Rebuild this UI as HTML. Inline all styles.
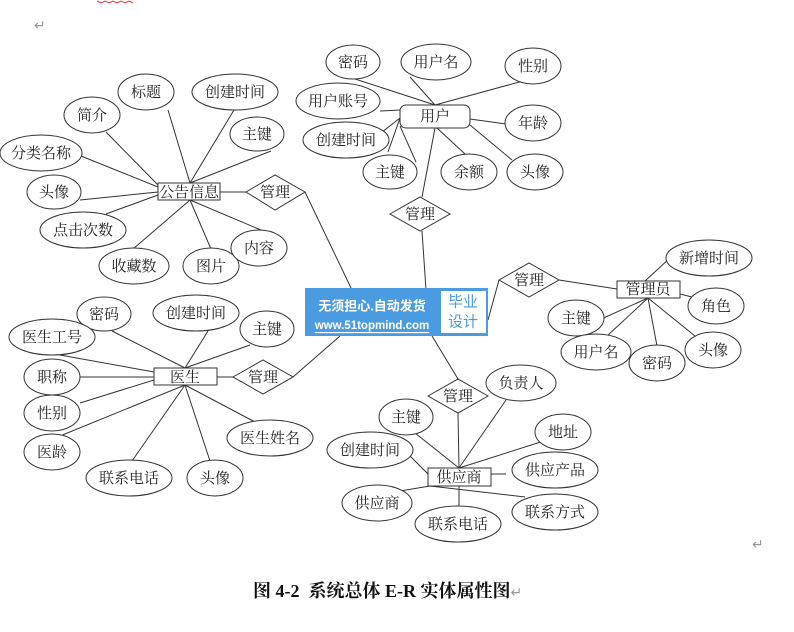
<!DOCTYPE html>
<html><head><meta charset="utf-8"><style>
html,body{margin:0;padding:0;background:#fff;}
svg text{font-family:"Liberation Serif","Noto Serif CJK SC",serif;font-size:15px;fill:#222;}
</style></head><body>
<svg width="794" height="627" viewBox="0 0 794 627" xmlns="http://www.w3.org/2000/svg">
<g stroke="#333" stroke-width="1" fill="none">
<path d="M168 110L190 183M234 110L190 183M271 151L190 183M106 132L158 185M81 156L158 187M80 200L158 192M106 214L158 195M133 249L190 200M211 249L190 200M268 233L190 200M220 192L246 192M305 192L352 290"/>
<path d="M355 79L435 105M410 77L435 105M523 81L435 105M380 111L400 110M470 119L506 124M400 118L388 152M400 126L416 162M437 128L465 154M470 125L512 160M435 128L422 197M422 231L426 290M372 140L400 118"/>
<path d="M499 280L488 320M559 280L617 289M645 281L670 258M680 294L700 299M648 298L599 320M648 298L607 336M648 298L657 346M648 298L695 336"/>
<path d="M112 331L185 368M208 331L185 368M250 345L185 368M60 355L154 372M80 377L154 377M80 403L154 380M60 436L185 385M132 461L185 385M210 461L185 385M255 422L185 385M217 377L233 377M293 377L340 336"/>
<path d="M458 379L432 336M458 413L459 468M506 400L459 468M415 433L459 468M410 456L428 474M547 440L459 468M506 474L491 474M430 486L525 497M459 486L459 507M430 486L400 491"/>
</g>
<g stroke="#333" stroke-width="1" fill="#fff">
<rect x="158" y="183" width="62" height="17"/>
<rect x="400" y="105" width="70" height="23" rx="6"/>
<rect x="617" y="281" width="63" height="17"/>
<rect x="154" y="368" width="63" height="17"/>
<rect x="428" y="468" width="63" height="18"/>
<polygon points="246,192 275,175 305,192 275,210"/>
<polygon points="390,214 420,197 450,214 420,231"/>
<polygon points="499,280 529,263 559,280 529,297"/>
<polygon points="233,377 263,360 293,377 263,394"/>
<polygon points="428,396 458,379 488,396 458,413"/>
<ellipse cx="146" cy="92" rx="28" ry="18"/>
<ellipse cx="235" cy="92" rx="43" ry="18"/>
<ellipse cx="257" cy="134" rx="27" ry="17"/>
<ellipse cx="92" cy="115" rx="28" ry="18"/>
<ellipse cx="41" cy="153" rx="41" ry="18"/>
<ellipse cx="54" cy="192" rx="27" ry="17"/>
<ellipse cx="83" cy="230" rx="43" ry="18"/>
<ellipse cx="134" cy="266" rx="35" ry="18"/>
<ellipse cx="211" cy="266" rx="28" ry="18"/>
<ellipse cx="259" cy="248" rx="28" ry="18"/>
<ellipse cx="353" cy="62" rx="27" ry="17"/>
<ellipse cx="436" cy="62" rx="35" ry="18"/>
<ellipse cx="533" cy="66" rx="28" ry="18"/>
<ellipse cx="338" cy="101" rx="42" ry="18"/>
<ellipse cx="533" cy="123" rx="28" ry="18"/>
<ellipse cx="346" cy="140" rx="43" ry="18"/>
<ellipse cx="390" cy="172" rx="27" ry="17"/>
<ellipse cx="469" cy="172" rx="28" ry="18"/>
<ellipse cx="535" cy="172" rx="28" ry="18"/>
<ellipse cx="709" cy="258" rx="43" ry="18"/>
<ellipse cx="716" cy="306" rx="28" ry="18"/>
<ellipse cx="576" cy="318" rx="28" ry="18"/>
<ellipse cx="596" cy="352" rx="35" ry="18"/>
<ellipse cx="657" cy="363" rx="28" ry="18"/>
<ellipse cx="713" cy="350" rx="28" ry="18"/>
<ellipse cx="104" cy="314" rx="27" ry="17"/>
<ellipse cx="196" cy="313" rx="43" ry="18"/>
<ellipse cx="267" cy="329" rx="27" ry="18"/>
<ellipse cx="52" cy="337" rx="43" ry="18"/>
<ellipse cx="52" cy="377" rx="28" ry="18"/>
<ellipse cx="52" cy="413" rx="28" ry="18"/>
<ellipse cx="52" cy="452" rx="28" ry="18"/>
<ellipse cx="129" cy="478" rx="43" ry="18"/>
<ellipse cx="215" cy="478" rx="28" ry="18"/>
<ellipse cx="270" cy="438" rx="43" ry="18"/>
<ellipse cx="521" cy="383" rx="35" ry="18"/>
<ellipse cx="406" cy="417" rx="27" ry="18"/>
<ellipse cx="563" cy="432" rx="28" ry="18"/>
<ellipse cx="370" cy="450" rx="43" ry="18"/>
<ellipse cx="555" cy="470" rx="43" ry="18"/>
<ellipse cx="377" cy="503" rx="35" ry="18"/>
<ellipse cx="555" cy="512" rx="43" ry="18"/>
<ellipse cx="458" cy="524" rx="43" ry="18"/>
</g>
<g text-anchor="middle" dominant-baseline="central" transform="translate(0,1)">
<text x="189" y="192">公告信息</text><text x="275" y="192">管理</text>
<text x="146" y="92">标题</text><text x="235" y="92">创建时间</text><text x="257" y="134">主键</text>
<text x="92" y="115">简介</text><text x="41" y="153">分类名称</text><text x="54" y="192">头像</text>
<text x="83" y="230">点击次数</text><text x="134" y="266">收藏数</text><text x="211" y="266">图片</text><text x="259" y="248">内容</text>
<text x="435" y="116">用户</text><text x="420" y="214">管理</text>
<text x="353" y="62">密码</text><text x="436" y="62">用户名</text><text x="533" y="66">性别</text>
<text x="338" y="101">用户账号</text><text x="533" y="123">年龄</text><text x="346" y="140">创建时间</text>
<text x="390" y="172">主键</text><text x="469" y="172">余额</text><text x="535" y="172">头像</text>
<text x="648" y="289">管理员</text><text x="529" y="280">管理</text>
<text x="709" y="258">新增时间</text><text x="716" y="306">角色</text><text x="576" y="318">主键</text>
<text x="596" y="352">用户名</text><text x="657" y="363">密码</text><text x="713" y="350">头像</text>
<text x="185" y="377">医生</text><text x="263" y="377">管理</text>
<text x="104" y="314">密码</text><text x="196" y="313">创建时间</text><text x="267" y="329">主键</text>
<text x="52" y="337">医生工号</text><text x="52" y="377">职称</text><text x="52" y="413">性别</text>
<text x="52" y="452">医龄</text><text x="129" y="478">联系电话</text><text x="215" y="478">头像</text><text x="270" y="438">医生姓名</text>
<text x="459" y="477">供应商</text><text x="458" y="396">管理</text>
<text x="521" y="383">负责人</text><text x="406" y="417">主键</text><text x="563" y="432">地址</text>
<text x="370" y="450">创建时间</text><text x="555" y="470">供应产品</text><text x="377" y="503">供应商</text>
<text x="555" y="512">联系方式</text><text x="458" y="524">联系电话</text>
</g>
<rect x="305" y="288" width="183" height="48" fill="#4a9be0"/>
<rect x="441" y="291" width="45" height="42" fill="#fff"/>
<text x="372" y="306" text-anchor="middle" dominant-baseline="central" style="fill:#fff;font-family:'Liberation Sans','Noto Sans CJK SC',sans-serif;font-size:13px;font-weight:bold">无须担心.自动发货</text>
<text x="372" y="326" text-anchor="middle" dominant-baseline="central" style="fill:#fff;font-family:'Liberation Sans',sans-serif;font-size:11.5px;font-weight:bold;text-decoration:underline">www.51topmind.com</text>
<text x="463" y="302" text-anchor="middle" dominant-baseline="central" style="fill:#4a9be0;font-family:'Liberation Sans','Noto Sans CJK SC',sans-serif;font-size:15px">毕业</text>
<text x="463" y="322" text-anchor="middle" dominant-baseline="central" style="fill:#4a9be0;font-family:'Liberation Sans','Noto Sans CJK SC',sans-serif;font-size:15px">设计</text>
<text x="34" y="30" style="fill:#999;font-size:14px">↵</text>
<text x="752" y="549" style="fill:#999;font-size:14px">↵</text>
<path d="M97 1 l4 2 l4 -2 l4 2 l4 -2 l4 2 l4 -2 l4 2 l4 -2 l4 2" stroke="#e33" fill="none"/>
<text x="253" y="597" xml:space="preserve" style="font-size:18px;font-weight:bold;fill:#111;white-space:pre">图 4-2  系统总体 E-R 实体属性图<tspan style="fill:#999;font-weight:normal;font-size:14px">↵</tspan></text>
</svg>
</body></html>
